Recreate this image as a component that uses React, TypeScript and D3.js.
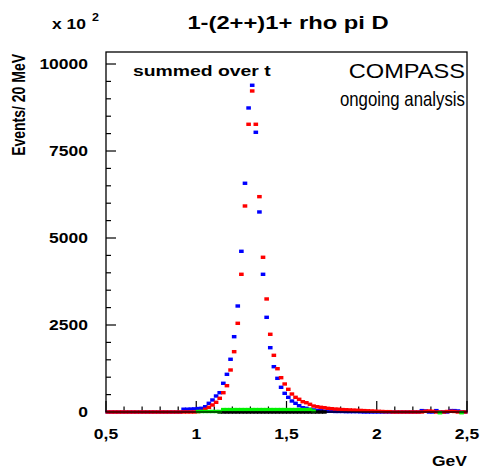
import React from "react";
import * as d3 from "d3";

// ---- data ----
const binLow = 0.5;
const binWidth = 0.02;

const blueSeries: (number | null)[] = [
  0, 0, 0, 0, 0, 0, 0, 0, 0, 0,
  0, 0, 0, 0, 0, 0, 0, 0, 0, 0,
  0, 80, 80, 85, 90, 100, 106, 152, 250, 345,
  460, 555, 825, 1083, 1515, 2164, 3046, 4618, 6573, 8737,
  9389, 8038, 5748, 3957, 2721, 1848, 1302, 968, 710, 537,
  422, 316, 250, 181, 124, 106, 78, 60, 45, 35,
  25, 20, 20, 15, 15, 15, 10, 10, 10, 10,
  5, 0, 0, 0, 0, 0, 0, 0, 0, 0,
  0, 0, 0, 0, 0, 0, 0, 40, 30, 0,
  0, 40, 0, 0, 0, 40, 40, 30, 0, 0,
];

const redSeries: (number | null)[] = [
  0, 0, 0, 0, 0, 0, 0, 0, 0, 0,
  0, 0, 0, 0, 0, 0, 0, 0, 0, 0,
  0, 0, 0, 0, 0, 10, 20, 78, 135, 201,
  279, 394, 555, 756, 1207, 1733, 2549, 3957, 5920, 8268,
  9225, 8268, 6188, 4446, 3248, 2233, 1629, 1244, 986, 805,
  652, 517, 422, 365, 296, 267, 221, 172, 152, 135,
  124, 105, 95, 85, 80, 70, 65, 60, 55, 50,
  45, 40, 35, 30, 25, 20, 15, 10, 10, 0,
  0, 0, 0, 0, 0, 0, 0, 0, 20, 30,
  20, 0, 0, 0, 15, 20, 15, 0, 0, 0,
];

const blackSeries: (number | null)[] = [
  null, null, null, null, null, null, null, null, null, null,
  null, null, null, null, null, null, null, null, null, null,
  null, null, null, null, null, null, null, null, null, null,
  null, 0, 0, 0, 0, 0, 0, 0, 0, 0,
  0, 0, 0, 0, 0, 0, 0, 0, 0, 0,
  0, 0, 0, 0, 0, 0, 0, 0, 0, 0,
  0, null, null, null, null, null, null, null, null, null,
  null, null, null, null, null, null, null, null, null, null,
  null, null, null, null, null, null, null, null, null, null,
  null, null, null, null, null, null, null, null, null, null,
];

const greenSeries: (number | null)[] = [
  null, null, null, null, null, null, null, null, null, null,
  null, null, null, null, null, null, null, null, null, null,
  null, null, null, null, null, 15, 15, 15, 15, 15,
  15, 15, 70, 70, 70, 70, 70, 70, 70, 70,
  70, 70, 70, 70, 70, 70, 70, 70, 70, 70,
  70, 70, 70, 70, 70, 70, 70, 30, null, null,
  null, null, null, null, null, null, null, null, null, null,
  null, null, null, null, null, null, null, null, null, null,
  null, null, null, null, null, null, null, null, null, null,
  null, null, -20, null, null, null, null, null, -20, null,
];

const xTickValues = [0.5, 1, 1.5, 2, 2.5];
const xTickLabels = ["0,5", "1", "1,5", "2", "2,5"];
const yTickValues = [0, 2500, 5000, 7500, 10000];
const yTickLabels = ["0", "2500", "5000", "7500", "10000"];

const titleText = "1-(2++)1+ rho pi D";
const yAxisTitle = "Events/ 20 MeV";
const xAxisTitle = "GeV";

// ---- layout ----
const W = 480;
const H = 470;
const L = 106, R = 467, T = 52, B = 412;
const FONT = "'Liberation Sans', Arial, Helvetica, sans-serif";
const SX = 1.25;

function SText(props: {
  x: number; y: number; size: number; bold?: boolean;
  anchor?: "start" | "middle" | "end"; sx?: number; children: React.ReactNode; fill?: string;
}) {
  const { x, y, size, bold = true, anchor = "start", sx = SX, children, fill = "#000" } = props;
  return (
    <text
      transform={`translate(${x},${y}) scale(${sx},1)`}
      fontFamily={FONT}
      fontSize={size}
      fontWeight={bold ? "bold" : "normal"}
      textAnchor={anchor}
      fill={fill}
    >
      {children}
    </text>
  );
}

export default function App() {
  const x = d3.scaleLinear().domain([0.5, 2.5]).range([L, R]);
  const y = d3.scaleLinear().domain([0, 10345]).range([B, T]);

  const xMinor = x.ticks(20);
  const yMinor = d3.range(0, 10345, 500);

  const centers = blueSeries.map((_, i) => binLow + binWidth * (i + 0.5));

  const mw = 4.6, mh = 3.4;
  const markers = (vals: (number | null)[], color: string, key: string) =>
    vals.map((v, i) =>
      v === null ? null : (
        <rect
          key={key + i}
          x={x(centers[i]) - mw / 2}
          y={y(v) - mh / 2}
          width={mw}
          height={mh}
          fill={color}
        />
      )
    );

  return (
    <svg
      width={W}
      height={H}
      style={{ position: "absolute", left: 0, top: 0, background: "#fff" }}
    >
      <rect x={0} y={0} width={W} height={H} fill="#fff" />

      {/* ticks */}
      {xMinor.map((t, i) => {
        const major = xTickValues.some((m) => Math.abs(m - t) < 1e-6);
        return (
          <line key={"xt" + i} x1={x(t)} x2={x(t)} y1={B} y2={B - (major ? 11 : 5.5)} stroke="#000" strokeWidth={1.2} />
        );
      })}
      {yMinor.map((t, i) => {
        const major = yTickValues.includes(t);
        return (
          <line key={"yt" + i} x1={L} x2={L + (major ? 10 : 5)} y1={y(t)} y2={y(t)} stroke="#000" strokeWidth={1.2} />
        );
      })}

      {/* data markers */}
      <g>{markers(blueSeries, "#0000ff", "b")}</g>
      <g>{markers(redSeries, "#ff0000", "r")}</g>
      <g>{markers(blackSeries, "#000000", "k")}</g>
      <g>{markers(greenSeries, "#00f000", "g")}</g>

      {/* frame */}
      <rect x={L} y={T} width={R - L} height={B - T} fill="none" stroke="#000" strokeWidth={1.3} />

      {/* tick labels */}
      {xTickValues.map((t, i) => (
        <SText key={"xl" + i} x={x(t)} y={439} size={14} anchor="middle">{xTickLabels[i]}</SText>
      ))}
      {yTickValues.map((t, i) => (
        <SText key={"yl" + i} x={88} y={y(t) + 5} size={14} anchor="end">{yTickLabels[i]}</SText>
      ))}

      {/* axis titles */}
      <SText x={467} y={466} size={14} anchor="end">{xAxisTitle}</SText>
      <text
        transform={`translate(25,54) scale(1.25,1) rotate(-90)`}
        fontFamily={FONT}
        fontSize={14}
        fontWeight="bold"
        textAnchor="end"
      >
        {yAxisTitle}
      </text>

      {/* exponent */}
      <SText x={52} y={29} size={14}>x 10</SText>
      <SText x={92} y={21} size={10}>2</SText>

      {/* title */}
      <SText x={288} y={29} size={19} anchor="middle">{titleText}</SText>

      {/* labels in pad */}
      <SText x={133} y={76} size={15.5}>summed over t</SText>
      <SText x={465} y={78} size={20} bold={false} anchor="end" sx={1.18}>COMPASS</SText>
      <SText x={465} y={106} size={20} bold={false} anchor="end" sx={0.84}>ongoing analysis</SText>
    </svg>
  );
}
